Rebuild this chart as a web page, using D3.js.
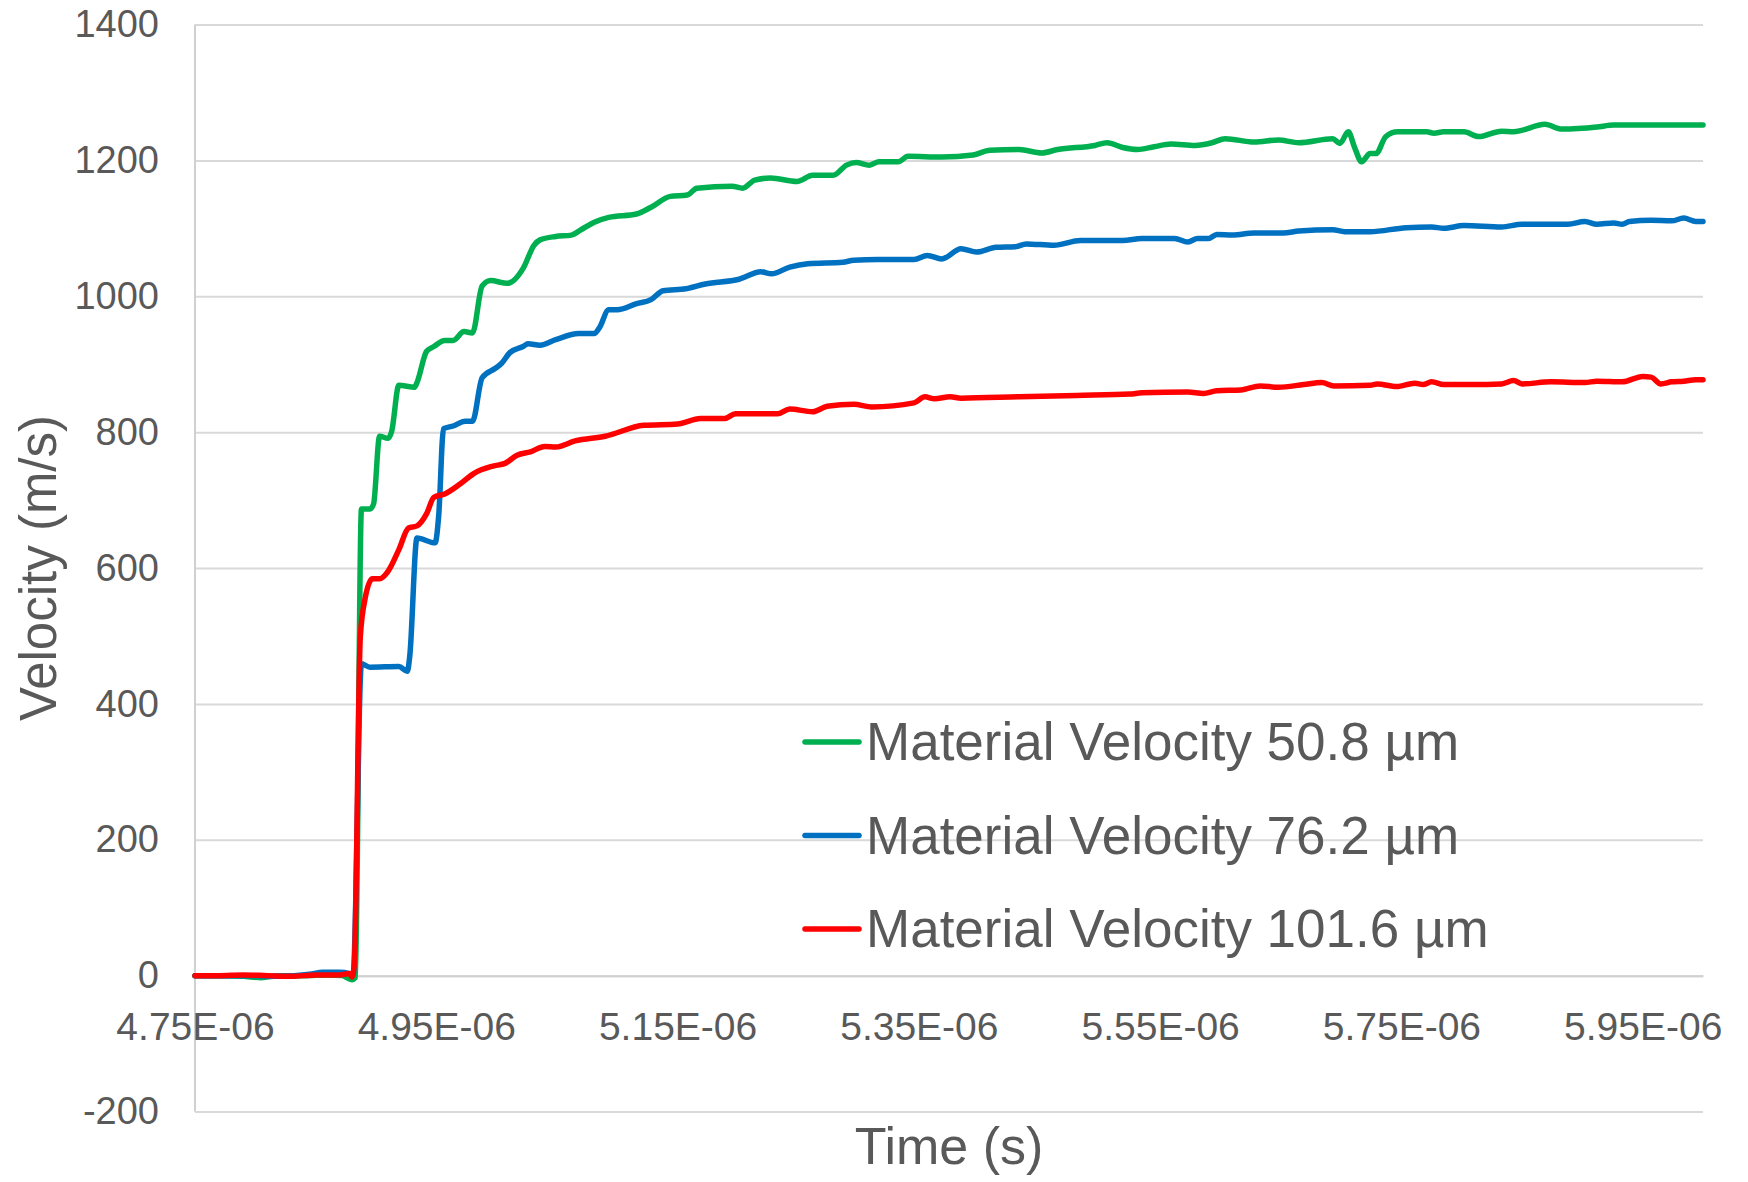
<!DOCTYPE html>
<html>
<head>
<meta charset="utf-8">
<script src="https://cdn.jsdelivr.net/npm/d3@7"></script>
<style>
  body { margin: 0; background: #ffffff; }
  svg { display: block; font-family: "Liberation Sans", Arial, sans-serif; }
</style>
</head>
<body>
<svg id="chart" width="1748" height="1182"></svg>
<script>
// time in microseconds, velocity in m/s
const mv508 = [
  [4.750,0],[4.770,0],[4.790,-1],[4.805,-3],[4.820,0],[4.840,0],[4.860,1],[4.872,0],[4.880,-6],[4.883,-3],
  [4.888,687],[4.895,687],[4.898,694],[4.903,794],[4.910,791],[4.913,801],[4.919,869],[4.932,866],[4.934,873],
  [4.942,919],[4.948,926],[4.957,935],[4.964,935],[4.973,948],[4.980,946],[4.988,1015],[4.995,1023],[5.009,1019],
  [5.022,1041],[5.031,1075],[5.036,1083],[5.049,1088],[5.062,1090],[5.071,1099],[5.081,1109],[5.093,1116],
  [5.116,1121],[5.128,1131],[5.144,1147],[5.158,1149],[5.166,1159],[5.195,1162],[5.204,1159],[5.214,1171],
  [5.227,1174],[5.249,1169],[5.262,1178],[5.279,1178],[5.290,1193],[5.298,1197],[5.309,1193],[5.317,1198],
  [5.333,1198],[5.341,1206],[5.369,1205],[5.395,1208],[5.409,1215],[5.433,1216],[5.452,1211],[5.465,1216],
  [5.496,1222],[5.506,1226],[5.519,1219],[5.531,1216],[5.545,1220],[5.559,1224],[5.579,1222],[5.593,1226],
  [5.604,1232],[5.628,1227],[5.648,1230],[5.665,1226],[5.693,1232],[5.699,1225],[5.706,1242],[5.711,1220],
  [5.717,1198],[5.724,1210],[5.729,1210],[5.737,1235],[5.747,1242],[5.771,1242],[5.777,1240],[5.785,1242],
  [5.802,1242],[5.814,1235],[5.833,1243],[5.843,1242],[5.869,1253],[5.883,1246],[5.912,1249],[5.926,1252],
  [6.000,1252]
];

const mv762 = [
  [4.750,0],[4.790,0],[4.820,-1],[4.845,2],[4.856,5],[4.870,5],[4.878,3],[4.881,0],[4.888,459],[4.895,454],
  [4.919,455],[4.926,448],[4.928,470],[4.934,644],[4.949,637],[4.952,677],[4.956,805],[4.964,809],[4.974,816],
  [4.980,816],[4.988,880],[4.999,894],[5.004,901],[5.011,917],[5.022,926],[5.026,930],[5.036,928],[5.049,936],
  [5.068,945],[5.081,945],[5.085,953],[5.093,980],[5.100,980],[5.116,989],[5.128,995],[5.138,1008],[5.157,1011],
  [5.173,1018],[5.201,1025],[5.219,1036],[5.228,1033],[5.243,1043],[5.258,1048],[5.287,1050],[5.296,1053],
  [5.316,1054],[5.346,1054],[5.357,1060],[5.369,1055],[5.385,1070],[5.398,1065],[5.414,1072],[5.430,1073],
  [5.439,1077],[5.462,1075],[5.484,1082],[5.519,1082],[5.535,1085],[5.562,1085],[5.573,1080],[5.581,1085],
  [5.590,1085],[5.597,1091],[5.610,1090],[5.628,1093],[5.652,1093],[5.665,1096],[5.693,1098],[5.703,1095],
  [5.724,1095],[5.754,1101],[5.775,1102],[5.785,1100],[5.802,1104],[5.833,1102],[5.850,1106],[5.888,1106],
  [5.902,1110],[5.912,1106],[5.926,1108],[5.933,1106],[5.939,1110],[5.957,1112],[5.974,1111],[5.984,1115],
  [5.994,1110],[6.000,1110]
];

const mv1016 = [
  [4.750,0],[4.770,0],[4.790,1],[4.810,0],[4.830,-1],[4.850,1],[4.870,1],[4.878,3],[4.880,-2],[4.882,15],
  [4.887,498],[4.891,555],[4.897,584],[4.903,584],[4.910,595],[4.919,627],[4.927,659],[4.934,662],[4.942,680],
  [4.948,704],[4.957,709],[4.970,724],[4.981,739],[4.997,750],[5.007,754],[5.017,766],[5.028,771],[5.040,779],
  [5.049,778],[5.065,787],[5.090,794],[5.122,810],[5.150,812],[5.169,820],[5.189,820],[5.198,827],[5.233,827],
  [5.243,834],[5.262,830],[5.274,838],[5.296,841],[5.311,837],[5.346,843],[5.355,852],[5.363,849],[5.376,852],
  [5.385,850],[5.433,852],[5.481,854],[5.525,856],[5.535,858],[5.573,859],[5.586,857],[5.597,861],[5.617,862],
  [5.633,868],[5.648,866],[5.669,870],[5.684,873],[5.694,868],[5.724,869],[5.730,871],[5.746,867],[5.761,872],
  [5.768,870],[5.775,874],[5.785,870],[5.809,870],[5.833,871],[5.843,876],[5.850,871],[5.874,874],[5.902,873],
  [5.912,875],[5.933,874],[5.950,882],[5.957,881],[5.965,871],[5.974,874],[5.984,875],[5.994,877],[6.000,877]
];

const seriesNames = ["Material Velocity 50.8 µm", "Material Velocity 76.2 µm", "Material Velocity 101.6 µm"];
const seriesColors = ["#00B050", "#0070C0", "#FF0000"];
const seriesData = [mv508, mv762, mv1016];

const timeTicks = [4.75, 4.95, 5.15, 5.35, 5.55, 5.75, 5.95];
const velTicks = [-200, 0, 200, 400, 600, 800, 1000, 1200, 1400];

const TEXTCOLOR = "#595959";
const GRIDCOLOR = "#D9D9D9";

var svg = d3.select("#chart");
var margin = { top: 24.5, right: 45, bottom: 70.5, left: 195 };
var width = 1748 - margin.left - margin.right;
var height = 1182 - margin.top - margin.bottom;

var g = svg.append("g")
  .attr("transform", "translate(" + margin.left + "," + margin.top + ")");

var x = d3.scaleLinear().domain([4.75e-6, 6.0e-6]).range([0, width]);
var y = d3.scaleLinear().domain([-200, 1400]).range([height, 0]);

// horizontal gridlines + value labels (plain integers, ascii minus like Excel)
var yAxis = g.append("g")
  .call(d3.axisLeft(y)
    .tickValues(velTicks)
    .tickSize(-width)
    .tickPadding(36)
    .tickFormat(function(d) { return String(d); }));
yAxis.select(".domain").remove();
yAxis.selectAll(".tick line").attr("stroke", GRIDCOLOR).attr("stroke-width", 2);
yAxis.selectAll(".tick text")
  .attr("fill", TEXTCOLOR)
  .style("font-size", "38px");

// left vertical axis line
g.append("line")
  .attr("x1", 0).attr("x2", 0)
  .attr("y1", 0).attr("y2", height)
  .attr("stroke", "#D0D0D0")
  .attr("stroke-width", 2);

// horizontal axis crosses at 0
var xAxis = g.append("g")
  .attr("transform", "translate(0," + y(0) + ")")
  .call(d3.axisBottom(x)
    .tickValues(timeTicks.map(function(t) { return t * 1e-6; }))
    .tickSize(0)
    .tickPadding(37)
    .tickFormat(function(d) { return (d * 1e6).toFixed(2) + "E-06"; }));
xAxis.select(".domain").attr("stroke", "#D0D0D0").attr("stroke-width", 2);
xAxis.selectAll(".tick text")
  .attr("fill", TEXTCOLOR)
  .style("font-size", "39px");

// series lines
var line = d3.line()
  .x(function(d) { return x(d[0] * 1e-6); })
  .y(function(d) { return y(d[1]); })
  .curve(d3.curveMonotoneX);

g.selectAll(".series")
  .data(seriesData)
  .enter().append("path")
    .attr("class", "series")
    .attr("d", line)
    .attr("fill", "none")
    .attr("stroke", function(d, i) { return seriesColors[i]; })
    .attr("stroke-width", 5.5)
    .attr("stroke-linejoin", "round")
    .attr("stroke-linecap", "round");

// axis titles
svg.append("text")
  .attr("transform", "translate(38,568) rotate(-90)")
  .attr("text-anchor", "middle")
  .attr("dominant-baseline", "central")
  .attr("fill", TEXTCOLOR)
  .style("font-size", "51px")
  .text("Velocity (m/s)");

svg.append("text")
  .attr("x", 949)
  .attr("y", 1164)
  .attr("text-anchor", "middle")
  .attr("fill", TEXTCOLOR)
  .style("font-size", "52px")
  .text("Time (s)");

// legend
var legend = svg.append("g")
  .attr("transform", "translate(805,760)");

var item = legend.selectAll(".item")
  .data(seriesNames)
  .enter().append("g")
    .attr("class", "item")
    .attr("transform", function(d, i) { return "translate(0," + (i * 93.5) + ")"; });

item.append("line")
  .attr("x1", 0).attr("x2", 54)
  .attr("y1", -18).attr("y2", -18)
  .attr("stroke", function(d, i) { return seriesColors[i]; })
  .attr("stroke-width", 5.5)
  .attr("stroke-linecap", "round");

item.append("text")
  .attr("x", 61)
  .attr("y", 0)
  .attr("fill", TEXTCOLOR)
  .style("font-size", "53px")
  .text(function(d) { return d; });
</script>
</body>
</html>
